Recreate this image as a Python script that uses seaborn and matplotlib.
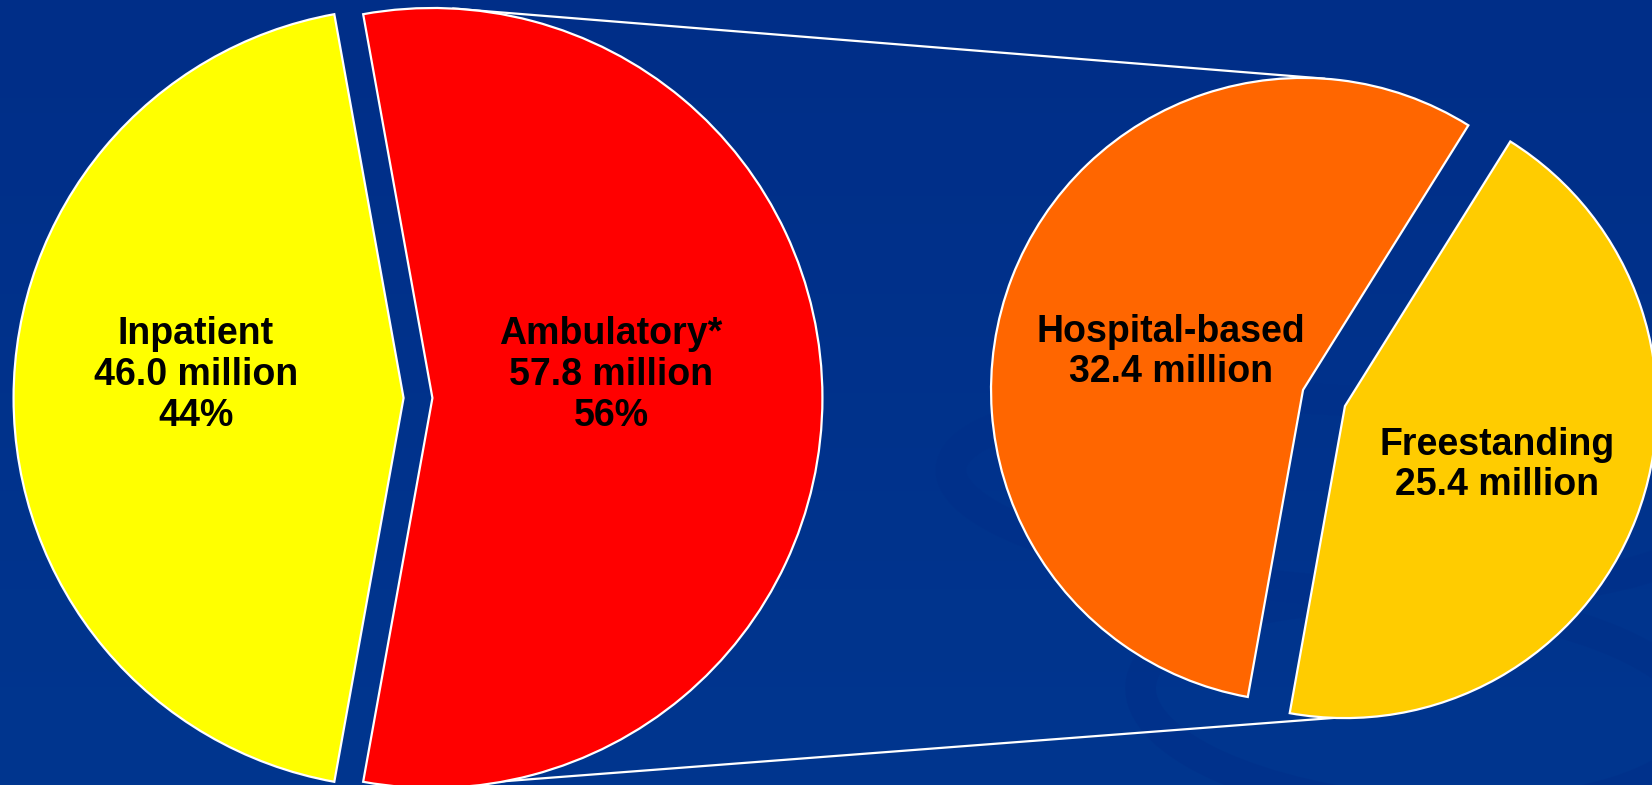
import matplotlib
matplotlib.use("Agg")
import matplotlib.pyplot as plt
import seaborn as sns
import numpy as np
from matplotlib.patches import Ellipse

# data
main_labels = ["Inpatient", "Ambulatory*"]
main_values = [46.0, 57.8]
main_pct = ["44%", "56%"]
main_colors = ["#FFFF00", "#FF0000"]

sub_labels = ["Hospital-based", "Freestanding"]
sub_values = [32.4, 25.4]
sub_colors = ["#FF6600", "#FFCC00"]

sns.set_theme(style="white")
plt.rcParams["font.family"] = ["Liberation Sans", "DejaVu Sans"]

W, H = 1652, 785
fig = plt.figure(figsize=(W / 100, H / 100), dpi=100)
ax = fig.add_axes([0, 0, 1, 1])

# background gradient (dark blue)
grad = np.linspace(0, 1, 256).reshape(-1, 1)
bg = matplotlib.colors.LinearSegmentedColormap.from_list("bg", ["#00368F", "#002E88"])
ax.imshow(grad, extent=[0, W, 0, H], cmap=bg, aspect="auto", zorder=0, origin="lower")

# faint swirl decoration
for (cx, cy, w, h) in [(1330, 290, 760, 190), (1420, 80, 560, 210)]:
    ax.add_patch(Ellipse((cx, cy), w, h, angle=-4, fill=False,
                         edgecolor="#00308A", lw=22, alpha=0.7, zorder=0.3))

wp = dict(edgecolor="white", linewidth=1.6)

# left pie (explode is in data units for matplotlib pie)
c1, r1 = (418, 387), 390
e1 = 0.037 * r1
start1 = 180 - 180 * main_values[0] / sum(main_values)
ax.pie(main_values, colors=main_colors, startangle=start1, counterclock=True,
       explode=[e1, e1], center=c1, radius=r1, wedgeprops=wp, frame=True)

# right pie
c2, r2 = (1324, 387), 312
e2 = 0.072 * r2
start2 = 58
ax.pie(sub_values, colors=sub_colors, startangle=start2, counterclock=True,
       explode=[e2, e2], center=c2, radius=r2, wedgeprops=wp, frame=True)

# connector lines: top of left (red) wedge to top of orange wedge, bottom to gold wedge
red_c = (c1[0] + e1, c1[1])
m_or = np.deg2rad(start2 + 180 * sub_values[0] / sum(sub_values))
or_c = (c2[0] + e2 * np.cos(m_or), c2[1] + e2 * np.sin(m_or))
gd_c = (c2[0] - e2 * np.cos(m_or), c2[1] - e2 * np.sin(m_or))

a1, a2 = np.deg2rad(87), np.deg2rad(86)
ax.plot([red_c[0] + r1 * np.cos(a1), or_c[0] + r2 * np.cos(a2)],
        [red_c[1] + r1 * np.sin(a1), or_c[1] + r2 * np.sin(a2)],
        color="white", lw=1.6, zorder=0.8)
b1, b2 = np.deg2rad(268), np.deg2rad(268)
ax.plot([red_c[0] + r1 * np.cos(b1), gd_c[0] + r2 * np.cos(b2)],
        [red_c[1] + r1 * np.sin(b1), gd_c[1] + r2 * np.sin(b2)],
        color="white", lw=1.6, zorder=0.8)

tk = dict(ha="center", va="center", fontsize=27, fontweight="bold",
          color="black", linespacing=1.17, zorder=5)
ax.text(196, 410, f"{main_labels[0]}\n{main_values[0]:.1f} million\n{main_pct[0]}", **tk)
ax.text(611, 410, f"{main_labels[1]}\n{main_values[1]:.1f} million\n{main_pct[1]}", **tk)
ax.text(1171, 433, f"{sub_labels[0]}\n{sub_values[0]:.1f} million", **tk)
ax.text(1497, 320, f"{sub_labels[1]}\n{sub_values[1]:.1f} million", **tk)

ax.set_xlim(0, W)
ax.set_ylim(0, H)
ax.set_aspect("auto")
ax.axis("off")

fig.savefig("out.png", dpi=100)
